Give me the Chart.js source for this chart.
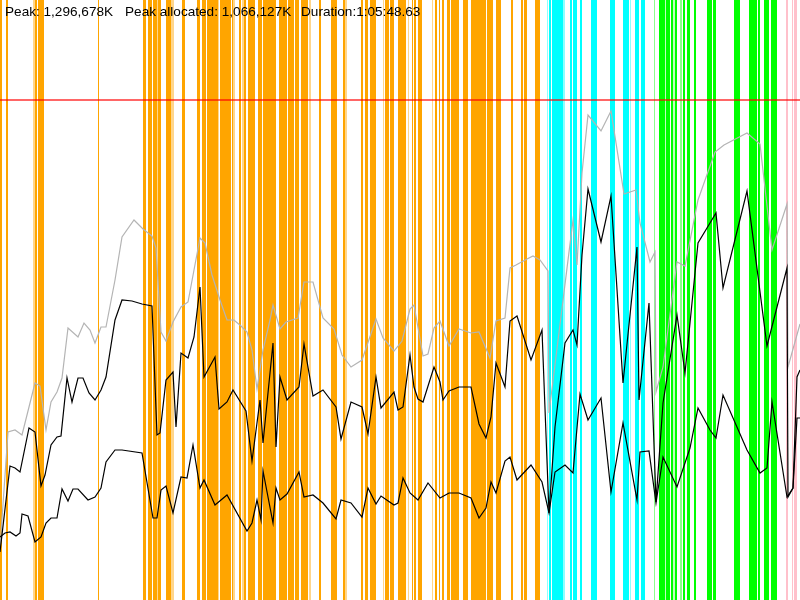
<!DOCTYPE html>
<html lang="en">
<head>
  <meta charset="UTF-8">
  <title>Memory timeline</title>
  <script src="https://cdn.jsdelivr.net/npm/chart.js"></script>
  <style>
    body { margin: 0; background: #fff; }
    #wrap { position: relative; width: 800px; height: 600px; }
    #info span { position: absolute; top: 5px; font: 13.6px "Liberation Sans", Arial, sans-serif; line-height: 14px; color: #000; white-space: nowrap; }
  </style>
</head>
<body>
  <div id="wrap">
    <canvas id="memChart" width="800" height="600"></canvas>
    <div id="info">
      <span style="left:5px">Peak: 1,296,678K</span>
      <span style="left:125px">Peak allocated: 1,066,127K</span>
      <span style="left:301px">Duration:1:05:48.63</span>
    </div>
  </div>

  <script>
    // time axis runs 0..800, memory axis 0..600 (same units as the plot height)
    const peakLine = 500;

    const totalX = [0, 8, 15, 22, 35, 40, 46, 51, 57, 62, 68, 78, 84, 90, 95, 101, 106, 115, 122, 134, 143, 152, 156, 161, 166, 173, 181, 188, 194, 200, 205, 212, 220, 227, 234, 241, 247, 252, 257, 263, 270, 273, 280, 286, 298, 304, 313, 323, 334, 342, 351, 362, 376, 383, 394, 402, 410, 414, 423, 428, 434, 440, 449, 459, 471, 479, 490, 496, 505, 510, 516, 527, 533, 540, 548, 549, 573, 577, 582, 588, 601, 611, 624, 636, 640, 650, 655, 656, 663, 677, 685, 698, 715, 724, 747, 760, 772, 787, 788, 800];
    const totalMem = [52, 168, 170, 165, 217, 214, 170, 198, 208, 222, 272, 263, 277, 270, 257, 273, 273, 320, 363, 380, 371, 364, 352, 268, 259, 278, 293, 298, 330, 362, 357, 325, 300, 280, 280, 274, 268, 250, 211, 250, 280, 295, 271, 278, 282, 318, 318, 282, 271, 245, 233, 240, 281, 262, 249, 259, 291, 295, 244, 246, 272, 279, 254, 271, 267, 268, 242, 279, 282, 332, 335, 341, 344, 340, 329, 187, 380, 335, 427, 485, 469, 489, 406, 410, 377, 338, 348, 208, 233, 338, 334, 400, 448, 455, 467, 456, 350, 396, 233, 276];

    const allocX = [0, 10, 15, 20, 29, 35, 41, 45, 51, 57, 61, 67, 72, 78, 83, 89, 95, 101, 106, 115, 122, 132, 142, 152, 157, 160, 166, 173, 176, 181, 188, 194, 200, 204, 215, 219, 227, 233, 246, 252, 260, 263, 273, 276, 280, 287, 299, 304, 313, 323, 336, 341, 351, 362, 368, 376, 381, 394, 398, 403, 410, 414, 418, 423, 434, 440, 443, 449, 459, 471, 479, 486, 491, 496, 505, 510, 517, 531, 542, 549, 555, 565, 573, 577, 582, 588, 601, 611, 623, 637, 639, 649, 656, 663, 677, 685, 698, 710, 716, 723, 747, 767, 787, 788, 793, 797, 800];
    const allocMem = [48, 134, 132, 128, 172, 168, 114, 125, 155, 163, 164, 222, 198, 222, 222, 207, 200, 210, 223, 280, 300, 299, 296, 294, 165, 167, 220, 228, 173, 247, 242, 263, 313, 223, 243, 191, 198, 210, 189, 139, 200, 157, 257, 153, 223, 200, 213, 256, 204, 210, 193, 161, 198, 193, 166, 223, 192, 208, 190, 193, 245, 213, 201, 198, 233, 218, 200, 209, 213, 213, 176, 162, 183, 237, 213, 279, 284, 240, 270, 87, 173, 257, 270, 255, 345, 411, 358, 404, 217, 353, 200, 297, 98, 197, 285, 227, 357, 377, 387, 312, 409, 254, 332, 103, 112, 223, 230];

    const liveX = [0, 5, 10, 16, 20, 22, 28, 35, 41, 46, 51, 57, 62, 68, 73, 78, 88, 95, 101, 106, 115, 122, 142, 153, 157, 161, 166, 173, 181, 187, 193, 200, 204, 215, 227, 247, 252, 257, 261, 263, 273, 276, 280, 287, 299, 304, 313, 323, 336, 341, 351, 362, 368, 376, 381, 394, 398, 403, 410, 418, 428, 440, 449, 459, 471, 479, 486, 491, 496, 505, 510, 517, 531, 542, 549, 555, 565, 573, 580, 588, 601, 611, 623, 637, 640, 649, 656, 663, 677, 690, 698, 710, 716, 723, 747, 760, 767, 772, 787, 793, 797, 800];
    const liveMem = [63, 67, 68, 64, 67, 86, 84, 58, 63, 77, 82, 82, 111, 99, 111, 111, 100, 103, 112, 138, 150, 150, 147, 82, 82, 110, 114, 87, 123, 122, 155, 112, 120, 95, 105, 69, 77, 100, 80, 129, 77, 112, 100, 106, 128, 103, 105, 97, 81, 100, 97, 83, 112, 96, 104, 95, 97, 122, 107, 100, 117, 102, 107, 107, 102, 82, 92, 118, 107, 139, 143, 120, 135, 118, 87, 128, 135, 127, 206, 180, 202, 108, 177, 100, 148, 149, 97, 143, 113, 152, 192, 170, 162, 205, 150, 127, 132, 198, 103, 112, 182, 182];

    // event spans [start, end] on the time axis
    const gcEvents = [[0,2],[6,8],[35,37],[38,44],[98,99],[143,146],[148,152],[153,157],[158,161],[166,168],[168,171],[182,185],[197,200],[202,206],[207,218],[220,227],[227,229],[229,231],[232,233],[239,241],[244,246],[248,255],[258,262],[263,276],[279,287],[288,291],[291,294],[295,299],[301,308],[319,321],[331,337],[343,345],[361,363],[365,368],[370,376],[385,389],[390,394],[398,406],[412,413],[414,416],[418,422],[435,437],[439,440],[442,444],[447,450],[451,455],[455,459],[463,468],[471,479],[479,486],[487,493],[496,501],[511,513],[521,523],[524,527],[535,540]];
    const gcMinor = [[33,35],[157,158],[171,174],[218,219],[233,235],[242,244],[309,311],[345,347],[383,384],[408,409],[432,433]];
    const loadEvents = [[549,551],[552,563],[570,572],[573,577],[580,582],[591,597],[610,615],[623,629],[635,639],[641,645]];
    const loadMinor = [[547,548],[563,565],[630,631]];
    const saveEvents = [[659,665],[665.5,670],[671,673.5],[674.5,677],[683,685],[687,690],[694,696],[707,712],[713,716],[734,740],[749,752],[752,757],[758,760],[764,769],[771,777]];
    const saveMinor = [[654,655],[680,682]];
    const exitEvents = [[786,788],[792,793],[794,797]];

    const toPoints = (xs, ys) => xs.map((x, i) => ({ x: x, y: ys[i] }));

    const spans = (list, color) => list.map(([a, b]) => ({
      data: [{ x: a, y: 600 }, { x: b, y: 600 }],
      fill: 'start',
      backgroundColor: color,
      borderWidth: 0,
      pointRadius: 0,
      order: 10
    }));

    const datasets = [
      { label: 'Peak', data: [{ x: 0, y: peakLine }, { x: 800, y: peakLine }], borderColor: 'rgba(255,0,0,0.6)', borderWidth: 2, pointRadius: 0, fill: false, order: 1 },
      { label: 'Total', data: toPoints(totalX, totalMem), borderColor: '#b4b4b4', borderWidth: 1.2, pointRadius: 0, fill: false, order: 2 },
      { label: 'Allocated', data: toPoints(allocX, allocMem), borderColor: '#000', borderWidth: 1.2, pointRadius: 0, fill: false, order: 1 },
      { label: 'Live', data: toPoints(liveX, liveMem), borderColor: '#000', borderWidth: 1.2, pointRadius: 0, fill: false, order: 1 }
    ].concat(
      spans(gcEvents, '#FFA500'),
      spans(gcMinor, 'rgba(255,165,0,0.45)'),
      spans(loadEvents, '#00FFFF'),
      spans(loadMinor, 'rgba(0,255,255,0.45)'),
      spans(saveEvents, '#00FF00'),
      spans(saveMinor, 'rgba(0,255,0,0.45)'),
      spans(exitEvents, '#FFC0CB')
    );

    new Chart(document.getElementById('memChart'), {
      type: 'line',
      data: { datasets: datasets },
      options: {
        responsive: false,
        animation: false,
        devicePixelRatio: 1,
        layout: { padding: 0 },
        elements: { line: { tension: 0 } },
        plugins: { legend: { display: false }, tooltip: { enabled: false } },
        scales: {
          x: { type: 'linear', min: 0, max: 800, display: false },
          y: { min: 0, max: 600, display: false }
        }
      }
    });
  </script>
</body>
</html>
